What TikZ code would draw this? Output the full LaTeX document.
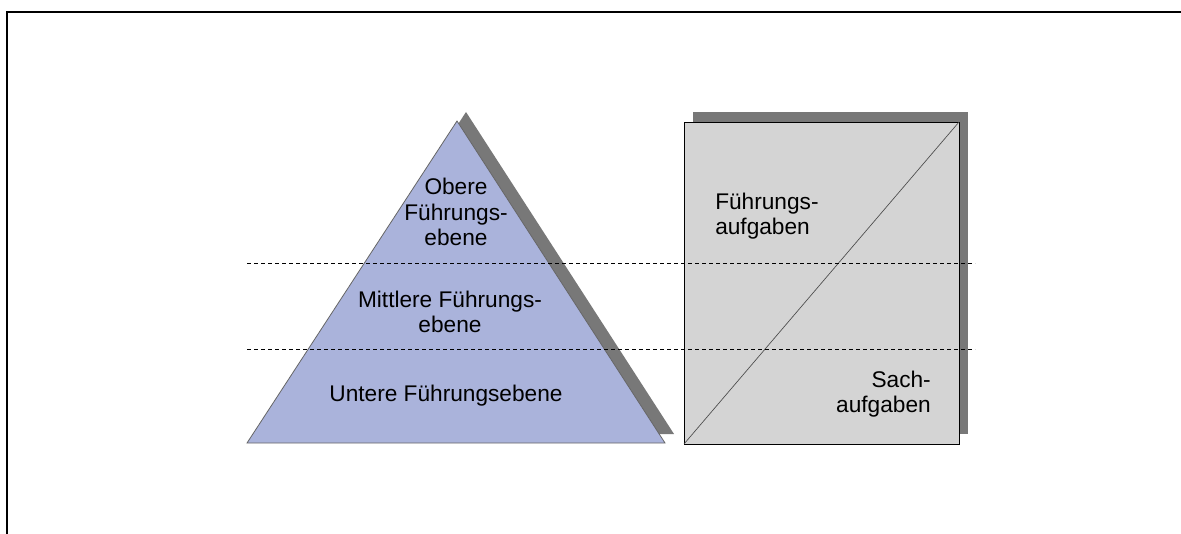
\documentclass[tikz,border=0pt]{standalone}
\usepackage{fontspec}
\setmainfont{Liberation Sans}
\definecolor{pyrblue}{RGB}{170,179,219}
\definecolor{boxgray}{RGB}{212,212,212}
\definecolor{shadowgray}{RGB}{120,120,120}
\begin{document}
\begin{tikzpicture}[x=0.75pt,y=-0.75pt,
		shadow/.style={fill=shadowgray,draw=none},
		txt/.style={font=\fontsize{17}{19.2}\selectfont,inner sep=0pt},
		level/.style={dash pattern=on 3pt off 2.25pt,line width=0.7pt}]
			\useasboundingbox (0,0) rectangle (1181,534);
			\draw [line width=1.6pt] (7,534) -- (7,12) -- (1181,12);
			% pyramid
			\coordinate (A) at (247,443);
			\coordinate (B) at (665,443);
			\coordinate (C) at (457,121);
			\fill [shadow] ([shift={(9,-9)}]A) -- ([shift={(9,-9)}]B) -- ([shift={(9,-9)}]C) -- cycle;
			\draw [fill=pyrblue,draw=black!60,line width=0.6pt] (A) to (B) to (C) to cycle;
			% box
			\coordinate (P) at (684,122);
			\coordinate (Q) at (959,444);
			\fill [shadow] ([shift={(9,-10)}]P) rectangle ([shift={(9,-10)}]Q);
			\draw [fill=boxgray,line width=0.6pt] (P) rectangle (Q);
			\draw [line width=0.5pt,black!70] (P |- Q) to (Q |- P);
			% levels
			\coordinate (U1) at (247,263);
			\coordinate (V1) at (975,263);
			\coordinate (U2) at (247,349);
			\coordinate (V2) at (975,349);
			\draw [level] (U1) to (V1);
			\draw [level] (U2) to (V2);
			\node [txt,align=center] (top) at (456,212) {Obere\\Führungs-\\ebene};
			\node [txt,align=center] (mid) at (450,312) {Mittlere Führungs-\\ebene};
			\node [txt,align=center] (low) at (446,396) {Untere Führungsebene};
			\node [txt,align=left,anchor=west] (lead) at (715,216) {Führungs-\\aufgaben};
			\node [txt,align=right,anchor=east] (task) at (931,394) {Sach-\\aufgaben};
		\end{tikzpicture}
\end{document}
